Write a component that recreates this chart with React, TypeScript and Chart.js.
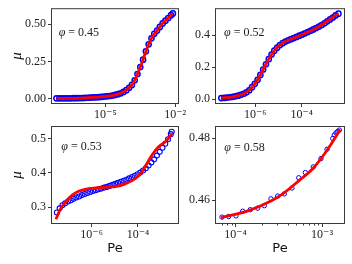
import { useEffect, useRef } from 'react';
import { Chart, registerables } from 'chart.js';
Chart.register(...registerables);

const CW = 352;
const CH = 264;

// ---------- φ = 0.45 ----------
const p045LogPe = [-7.10, -6.98, -6.86, -6.74, -6.62, -6.50, -6.38, -6.26, -6.14, -6.02, -5.90, -5.78, -5.66, -5.54, -5.42, -5.30, -5.18, -5.06, -4.94, -4.82, -4.70, -4.58, -4.46, -4.34, -4.22, -4.10, -3.98, -3.86, -3.74, -3.62, -3.50, -3.38, -3.26, -3.14, -3.02, -2.90, -2.78, -2.66, -2.54, -2.42, -2.30, -2.18, -2.10];
const p045Mu = [0.003, 0.003, 0.003, 0.003, 0.003, 0.003, 0.004, 0.004, 0.005, 0.005, 0.006, 0.007, 0.008, 0.009, 0.010, 0.011, 0.013, 0.015, 0.017, 0.019, 0.022, 0.026, 0.031, 0.037, 0.046, 0.058, 0.074, 0.093, 0.124, 0.166, 0.213, 0.262, 0.318, 0.365, 0.405, 0.435, 0.457, 0.481, 0.505, 0.523, 0.541, 0.560, 0.572];
const p045FitLogPe = [-7.10, -6.41, -5.56, -4.99, -4.56, -4.27, -4.06, -3.84, -3.70, -3.56, -3.41, -3.27, -3.13, -2.99, -2.77, -2.56, -2.34, -2.13];
const p045FitMu = [0.003, 0.003, 0.009, 0.016, 0.027, 0.042, 0.064, 0.097, 0.137, 0.190, 0.248, 0.314, 0.369, 0.414, 0.458, 0.502, 0.535, 0.568];

// ---------- φ = 0.52 ----------
const p052LogPe = [-7.46, -7.34, -7.22, -7.10, -6.98, -6.86, -6.74, -6.62, -6.50, -6.38, -6.26, -6.14, -6.02, -5.90, -5.78, -5.66, -5.54, -5.42, -5.30, -5.18, -5.06, -4.94, -4.82, -4.70, -4.58, -4.46, -4.34, -4.22, -4.10, -3.98, -3.86, -3.74, -3.62, -3.50, -3.38, -3.26, -3.14, -3.02, -2.90, -2.78, -2.66, -2.54, -2.42];
const p052Mu = [0.006, 0.007, 0.009, 0.011, 0.014, 0.017, 0.021, 0.026, 0.033, 0.042, 0.055, 0.074, 0.095, 0.120, 0.151, 0.185, 0.218, 0.250, 0.279, 0.303, 0.322, 0.338, 0.350, 0.360, 0.368, 0.375, 0.382, 0.389, 0.397, 0.404, 0.412, 0.420, 0.428, 0.436, 0.445, 0.454, 0.464, 0.475, 0.487, 0.499, 0.511, 0.524, 0.535];
const p052FitLogPe = [-7.46, -6.96, -6.53, -6.24, -6.03, -5.82, -5.60, -5.39, -5.17, -4.96, -4.67, -4.24, -3.81, -3.39, -2.96, -2.53, -2.42];
const p052FitMu = [0.006, 0.014, 0.031, 0.058, 0.093, 0.140, 0.202, 0.258, 0.305, 0.336, 0.363, 0.388, 0.415, 0.444, 0.481, 0.526, 0.534];

// ---------- φ = 0.53 ----------
const p053LogPe = [-7.50, -7.38, -7.26, -7.14, -7.02, -6.90, -6.78, -6.66, -6.54, -6.42, -6.30, -6.18, -6.06, -5.94, -5.82, -5.70, -5.58, -5.46, -5.34, -5.22, -5.10, -4.98, -4.86, -4.74, -4.62, -4.50, -4.38, -4.26, -4.14, -4.02, -3.90, -3.78, -3.66, -3.54, -3.42, -3.30, -3.18, -3.06, -2.94, -2.82, -2.70, -2.58, -2.54];
const p053Mu = [0.284, 0.296, 0.305, 0.311, 0.316, 0.320, 0.324, 0.328, 0.331, 0.335, 0.338, 0.341, 0.344, 0.347, 0.349, 0.352, 0.354, 0.357, 0.359, 0.362, 0.365, 0.368, 0.371, 0.374, 0.377, 0.380, 0.384, 0.388, 0.392, 0.396, 0.401, 0.407, 0.414, 0.422, 0.431, 0.440, 0.451, 0.462, 0.474, 0.486, 0.499, 0.514, 0.521];
const p053FitLogPe = [-7.54, -7.35, -7.14, -6.85, -6.56, -6.28, -5.84, -5.41, -4.98, -4.55, -4.12, -3.83, -3.62, -3.40, -3.11, -2.83, -2.61, -2.54];
const p053FitMu = [0.264, 0.294, 0.314, 0.334, 0.346, 0.352, 0.356, 0.358, 0.360, 0.368, 0.383, 0.403, 0.427, 0.452, 0.477, 0.491, 0.508, 0.516];

// ---------- φ = 0.58 ----------
const p058LogPe = [-4.156, -4.079, -3.994, -3.917, -3.829, -3.743, -3.667, -3.590, -3.512, -3.436, -3.347, -3.269, -3.193, -3.101, -3.012, -2.942, -2.876, -2.858, -2.838, -2.818, -2.800];
const p058Mu = [0.4545, 0.4547, 0.4549, 0.4564, 0.4569, 0.4574, 0.4582, 0.4604, 0.4613, 0.4620, 0.4639, 0.4672, 0.4689, 0.4707, 0.4734, 0.4764, 0.4799, 0.4810, 0.4817, 0.4822, 0.4826];
const p058FitLogPe = [-4.168, -3.840, -3.590, -3.454, -3.269, -3.108, -2.954, -2.818, -2.792];
const p058FitMu = [0.4543, 0.4567, 0.4597, 0.4620, 0.4662, 0.4701, 0.4756, 0.4815, 0.4828];

// ---------- axes ----------
const xTicks045 = [1e-5, 1e-2];
const xTicks052 = [1e-6, 1e-4];
const xTicks053 = [1e-6, 1e-4];
const xTicks058 = [1e-4, 1e-3];
const xMinor058 = [7e-5, 8e-5, 9e-5, 2e-4, 3e-4, 4e-4, 5e-4, 6e-4, 7e-4, 8e-4, 9e-4, 2e-3];
const yTicks045 = [0, 0.25, 0.5];
const yTicks052 = [0, 0.2, 0.4];
const yTicks053 = [0.3, 0.4, 0.5];
const yTicks058 = [0.46, 0.48];
const phiLabels = ['0.45', '0.52', '0.53', '0.58'];
const xTitle = 'Pe';
const yTitle = 'μ';

const SERIF = "'Liberation Serif', 'DejaVu Serif', serif";
const SANS = "'DejaVu Sans', sans-serif";

const SUP: Record<string, string> = {
  '-': '⁻', '0': '⁰', '1': '¹', '2': '²', '3': '³', '4': '⁴', '5': '⁵', '6': '⁶', '7': '⁷', '8': '⁸', '9': '⁹',
};
const powLabel = (v: number) => {
  const e = String(Math.round(Math.log10(v)));
  return '10' + e.split('').map((c) => SUP[c] || c).join('');
};

type Panel = {
  bx: number[]; by: number[]; fx: number[]; fy: number[];
  phi: string;
  area: { l: number; r: number; t: number; b: number };
  xExp: [number, number];
  yRange: [number, number];
  xTicks: number[]; yTicks: number[]; yDec: number; xMinor: number[];
  showY: boolean; showX: boolean;
  textOff: [number, number];
  radius: number;
  ring: number;
};

const PANELS: Panel[] = [
  { bx: p045LogPe, by: p045Mu, fx: p045FitLogPe, fy: p045FitMu, phi: phiLabels[0],
    area: { l: 52, r: 178, t: 8, b: 103 }, xExp: [-7.29, -1.88], yRange: [-0.028, 0.6],
    xTicks: xTicks045, yTicks: yTicks045, yDec: 2, xMinor: [], showY: true, showX: false, textOff: [6.7, 26.7], radius: 2.6, ring: 1.5 },
  { bx: p052LogPe, by: p052Mu, fx: p052FitLogPe, fy: p052FitMu, phi: phiLabels[1],
    area: { l: 216, r: 344, t: 8, b: 103 }, xExp: [-7.69, -2.18], yRange: [-0.025, 0.563],
    xTicks: xTicks052, yTicks: yTicks052, yDec: 1, xMinor: [], showY: false, showX: false, textOff: [8, 26.7], radius: 2.6, ring: 1.5 },
  { bx: p053LogPe, by: p053Mu, fx: p053FitLogPe, fy: p053FitMu, phi: phiLabels[2],
    area: { l: 52, r: 178, t: 127, b: 223 }, xExp: [-7.71, -2.27], yRange: [0.253, 0.535],
    xTicks: xTicks053, yTicks: yTicks053, yDec: 1, xMinor: [], showY: true, showX: true, textOff: [9.3, 22.7], radius: 2.5, ring: 1.1 },
  { bx: p058LogPe, by: p058Mu, fx: p058FitLogPe, fy: p058FitMu, phi: phiLabels[3],
    area: { l: 216, r: 344, t: 127, b: 223 }, xExp: [-4.225, -2.746], yRange: [0.4526, 0.4836],
    xTicks: xTicks058, yTicks: yTicks058, yDec: 2, xMinor: xMinor058, showY: false, showX: true, textOff: [8.3, 24], radius: 2.2, ring: 1 },
];

const YW = 44;

function makeChart(canvas: HTMLCanvasElement, p: Panel) {
  const XH = p.showX ? 33 : 20;
  const framePlugin = {
    id: 'frame' + p.phi,
    afterDraw(chart: any) {
      const { ctx, chartArea: a } = chart;
      ctx.save();
      ctx.strokeStyle = '#3a3a3a';
      ctx.lineWidth = 1;
      ctx.strokeRect(a.left - 0.5, a.top - 0.5, a.right - a.left + 1, a.bottom - a.top + 1);
      const xs = chart.scales.x;
      ctx.beginPath();
      for (const v of p.xMinor) {
        const px = Math.round(xs.getPixelForValue(v)) + 0.5;
        if (px < a.left || px > a.right) continue;
        ctx.moveTo(px, a.bottom + 0.5);
        ctx.lineTo(px, a.bottom + 2.5);
      }
      ctx.stroke();
      const x0 = a.left + p.textOff[0];
      const y0 = a.top + p.textOff[1];
      ctx.fillStyle = '#222';
      ctx.textBaseline = 'alphabetic';
      ctx.textAlign = 'left';
      ctx.font = `italic 12px ${SERIF}`;
      ctx.fillText('φ', x0, y0);
      const w1 = ctx.measureText('φ').width;
      ctx.font = `12px ${SERIF}`;
      ctx.fillText(' = ' + p.phi, x0 + w1, y0);
      ctx.restore();
    },
  };

  return new Chart(canvas, {
    type: 'scatter',
    data: {
      datasets: [
        {
          label: 'fit',
          data: p.fx.map((lx, i) => ({ x: Math.pow(10, lx), y: p.fy[i] })),
          showLine: true,
          borderColor: '#ff0000',
          borderWidth: 2.8,
          pointRadius: 0,
          cubicInterpolationMode: 'monotone',
          order: 0,
        } as any,
        {
          label: 'data',
          data: p.bx.map((lx, i) => ({ x: Math.pow(10, lx), y: p.by[i] })),
          showLine: false,
          pointStyle: 'circle',
          pointRadius: p.radius,
          pointBorderWidth: p.ring,
          pointBorderColor: '#0000ff',
          pointBackgroundColor: 'rgba(0,0,0,0)',
          order: 1,
        } as any,
      ],
    },
    options: {
      responsive: false,
      animation: false,
      devicePixelRatio: 1,
      events: [],
      layout: {
        padding: { left: p.area.l - YW, right: CW - p.area.r, top: p.area.t, bottom: CH - p.area.b - XH },
      },
      plugins: { legend: { display: false }, tooltip: { enabled: false } },
      scales: {
        x: {
          type: 'logarithmic',
          min: Math.pow(10, p.xExp[0]),
          max: Math.pow(10, p.xExp[1]),
          afterFit: (s: any) => { s.height = XH; },
          afterBuildTicks: (s: any) => { s.ticks = p.xTicks.map((v) => ({ value: v })); },
          ticks: {
            callback: (v: any) => powLabel(Number(v)),
            font: { family: SERIF, size: 12 },
            color: '#222',
            padding: 1,
            maxRotation: 0,
            autoSkip: false,
          },
          grid: { drawOnChartArea: false, drawTicks: true, tickLength: 4, color: '#3a3a3a', lineWidth: 1 },
          border: { display: false },
          title: { display: p.showX, text: xTitle, font: { family: SANS, size: 13 }, color: '#111', padding: 0 },
        },
        y: {
          type: 'linear',
          min: p.yRange[0],
          max: p.yRange[1],
          afterFit: (s: any) => { s.width = YW; },
          afterBuildTicks: (s: any) => { s.ticks = p.yTicks.map((v) => ({ value: v })); },
          ticks: {
            callback: (v: any) => Number(v).toFixed(p.yDec),
            font: { family: SERIF, size: 12 },
            color: '#222',
            padding: 2,
            autoSkip: false,
          },
          grid: { drawOnChartArea: false, drawTicks: true, tickLength: 4, color: '#3a3a3a', lineWidth: 1 },
          border: { display: false },
          title: { display: p.showY, text: yTitle, font: { family: SERIF, size: 15, style: 'italic' }, color: '#111', padding: 0 },
        },
      },
    } as any,
    plugins: [framePlugin],
  });
}

export default function App() {
  const refs = [useRef<HTMLCanvasElement>(null), useRef<HTMLCanvasElement>(null), useRef<HTMLCanvasElement>(null), useRef<HTMLCanvasElement>(null)];
  useEffect(() => {
    const charts = PANELS.map((p, i) => makeChart(refs[i].current as HTMLCanvasElement, p));
    return () => charts.forEach((c) => c.destroy());
  }, []);
  return (
    <div style={{ position: 'absolute', left: 0, top: 0, width: CW, height: CH, background: '#fff' }}>
      {PANELS.map((p, i) => (
        <canvas key={p.phi} ref={refs[i]} width={CW} height={CH} style={{ position: 'absolute', left: 0, top: 0, width: CW, height: CH }} />
      ))}
    </div>
  );
}
